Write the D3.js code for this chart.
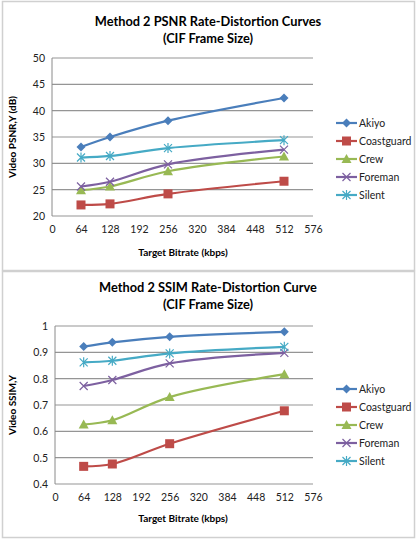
<!DOCTYPE html>
<html>
<head>
<meta charset="utf-8">
<script src="https://cdn.jsdelivr.net/npm/d3@7"></script>
<style>
  body { margin: 0; background: white; }
  text { font-family: Lato, "Open Sans", sans-serif; }
</style>
</head>
<body>
<svg id="chart" width="419" height="540"></svg>
<script>
const bitrates = [64, 128, 256, 512]
const xTicks = [0, 64, 128, 192, 256, 320, 384, 448, 512, 576]
const seriesNames = ['Akiyo', 'Coastguard', 'Crew', 'Foreman', 'Silent']

const psnrAkiyo = [33.1, 35.0, 38.1, 42.4]
const psnrCoastguard = [22.1, 22.3, 24.2, 26.6]
const psnrCrew = [24.9, 25.6, 28.5, 31.3]
const psnrForeman = [25.6, 26.5, 29.8, 32.6]
const psnrSilent = [31.1, 31.4, 32.9, 34.4]
const psnrTicks = [20, 25, 30, 35, 40, 45, 50]

const ssimAkiyo = [0.922, 0.938, 0.959, 0.978]
const ssimCoastguard = [0.467, 0.476, 0.553, 0.678]
const ssimCrew = [0.626, 0.642, 0.730, 0.817]
const ssimForeman = [0.772, 0.795, 0.858, 0.898]
const ssimSilent = [0.862, 0.868, 0.896, 0.921]
const ssimTicks = [0.4, 0.5, 0.6, 0.7, 0.8, 0.9, 1]

const colors = ['#4A7EBB', '#BE4B48', '#98B954', '#7D60A0', '#46AAC5']
const shapes = ['diamond', 'square', 'triangle', 'x', 'star']

const svg = d3.select('#chart')

let drawMarker = (g, shape, color) => {
  if(shape == 'diamond'){
    g.append('path').attr('d', 'M0,-4.5L4.5,0L0,4.5L-4.5,0Z').style('fill', color)
  }
  else if(shape == 'square'){
    g.append('rect').attr('x', -4.5).attr('y', -4.5).attr('width', 9).attr('height', 9)
     .style('fill', color)
  }
  else if(shape == 'triangle'){
    g.append('path').attr('d', 'M0,-5L5,4L-5,4Z').style('fill', color)
  }
  else if(shape == 'x'){
    g.append('path').attr('d', 'M-4,-4L4,4M-4,4L4,-4')
     .style('stroke', color).style('stroke-width', 1.2).style('fill', 'none')
  }
  else {
    g.append('path').attr('d', 'M-4,-4L4,4M-4,4L4,-4M0,-5L0,5')
     .style('stroke', color).style('stroke-width', 1.2).style('fill', 'none')
  }
}

let drawChart = (cfg) => {
  const top = cfg.top
  const panel = svg.append('g').attr('transform', `translate(0, ${top})`)

  panel.append('rect')
    .attr('x', 2.5).attr('y', 1.5)
    .attr('width', 412).attr('height', cfg.panelHeight)
    .style('fill', 'white')
    .style('stroke', '#d0d0d0')
    .style('stroke-width', 1.5)

  panel.append('text')
    .text(cfg.title[0])
    .attr('x', 208).attr('y', cfg.titleY)
    .style('text-anchor', 'middle')
    .style('font-weight', 'bold')
    .style('font-size', '12.8px')
  panel.append('text')
    .text(cfg.title[1])
    .attr('x', 208).attr('y', cfg.titleY + 17)
    .style('text-anchor', 'middle')
    .style('font-weight', 'bold')
    .style('font-size', '12.8px')

  const xScale = d3.scaleLinear().domain([0, 576]).range([cfg.left, 313])
  const yScale = d3.scaleLinear().domain(cfg.domain).range([cfg.bottom, cfg.plotTop])

  // gridlines
  panel.append('g')
    .selectAll('line')
    .data(cfg.ticks)
    .enter()
    .append('line')
    .attr('x1', cfg.left).attr('x2', 313)
    .attr('y1', d => yScale(d)).attr('y2', d => yScale(d))
    .style('stroke', '#959595')
    .style('stroke-width', 1.2)

  panel.append('line')
    .attr('x1', cfg.left).attr('x2', cfg.left)
    .attr('y1', cfg.plotTop).attr('y2', cfg.bottom)
    .style('stroke', '#8a8a8a')

  let yAxis = panel.append('g')
    .attr('transform', `translate(${cfg.left}, 0)`)
    .call(d3.axisLeft(yScale).tickValues(cfg.ticks).tickSize(0).tickPadding(7)
      .tickFormat(d => String(d)))
  yAxis.select('.domain').remove()
  yAxis.selectAll('text').style('font-size', '10.5px').style('fill', '#222')
    .style('font-family', 'Lato, sans-serif')

  let xAxis = panel.append('g')
    .attr('transform', `translate(0, ${cfg.bottom})`)
    .call(d3.axisBottom(xScale).tickValues(xTicks).tickSize(0).tickPadding(10))
  xAxis.select('.domain').remove()
  xAxis.selectAll('text').style('font-size', '10.5px').style('fill', '#222')
    .style('font-family', 'Lato, sans-serif')

  panel.append('text')
    .text('Target Bitrate (kbps)')
    .attr('x', 183).attr('y', cfg.xLabelY)
    .style('text-anchor', 'middle')
    .style('font-weight', 'bold')
    .style('font-size', '10px')

  panel.append('text')
    .text(cfg.yLabel)
    .attr('transform', `translate(16, ${(cfg.plotTop + cfg.bottom) / 2})rotate(-90)`)
    .style('text-anchor', 'middle')
    .style('font-weight', 'bold')
    .style('font-size', '10px')

  let lineGenerator = d3.line()
    .x(d => xScale(d[0]))
    .y(d => yScale(d[1]))
    .curve(d3.curveCatmullRom.alpha(0.5))

  cfg.series.forEach((values, i) => {
    const pts = bitrates.map((b, j) => [b, values[j]])
    panel.append('path')
      .datum(pts)
      .attr('d', lineGenerator)
      .style('fill', 'none')
      .style('stroke', colors[i])
      .style('stroke-width', 2.2)
    pts.forEach(p => {
      let m = panel.append('g')
        .attr('transform', `translate(${xScale(p[0])}, ${yScale(p[1])})`)
      drawMarker(m, shapes[i], colors[i])
    })

    let leg = panel.append('g')
      .attr('transform', `translate(336, ${cfg.legendY + i * 18})`)
    leg.append('line')
      .attr('x1', 0).attr('x2', 21)
      .style('stroke', colors[i]).style('stroke-width', 2.2)
    let lm = leg.append('g').attr('transform', 'translate(10.5, 0)')
    drawMarker(lm, shapes[i], colors[i])
    leg.append('text')
      .text(seriesNames[i])
      .attr('x', 23).attr('dy', '0.35em')
      .style('font-size', '10.5px')
      .style('fill', '#222')
  })
}

drawChart({
  top: 0,
  panelHeight: 269,
  title: ['Method 2 PSNR Rate-Distortion Curves', '(CIF Frame Size)'],
  titleY: 26,
  left: 52,
  plotTop: 58,
  bottom: 216,
  domain: [20, 50],
  ticks: psnrTicks,
  yLabel: 'Video PSNR,Y (dB)',
  xLabelY: 256,
  legendY: 123,
  series: [psnrAkiyo, psnrCoastguard, psnrCrew, psnrForeman, psnrSilent]
})

drawChart({
  top: 270,
  panelHeight: 266,
  title: ['Method 2 SSIM Rate-Distortion Curve', '(CIF Frame Size)'],
  titleY: 22,
  left: 55,
  plotTop: 56,
  bottom: 214,
  domain: [0.4, 1],
  ticks: ssimTicks,
  yLabel: 'Video SSIM,Y',
  xLabelY: 252,
  legendY: 119,
  series: [ssimAkiyo, ssimCoastguard, ssimCrew, ssimForeman, ssimSilent]
})
</script>
</body>
</html>
